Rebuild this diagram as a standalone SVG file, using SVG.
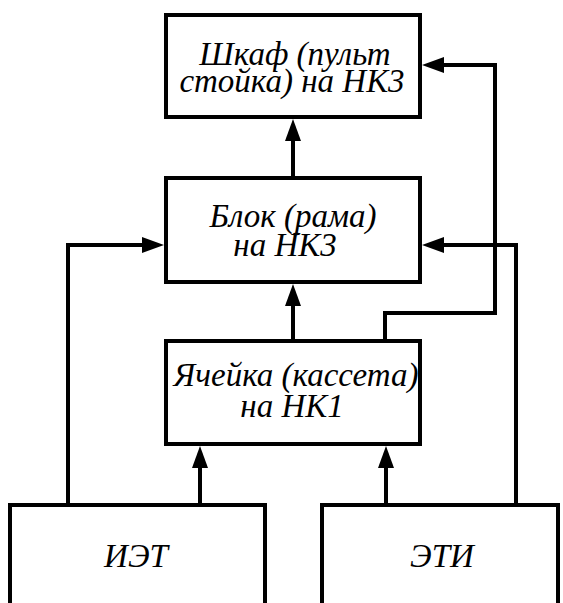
<svg xmlns="http://www.w3.org/2000/svg" width="563" height="603" viewBox="0 0 563 603">
  <style>
    .box { fill: #fff; stroke: #000; stroke-width: 4; }
    .lbl { font-family: 'Liberation Serif', 'Times New Roman', 'DejaVu Serif', serif; font-style: italic; font-size: 33px; fill: #000; text-anchor: middle; }
    .wire { fill: none; stroke: #000; stroke-width: 4; stroke-linejoin: miter; }
  </style>
  <defs>
    <marker id="head" markerUnits="userSpaceOnUse" viewBox="0 0 22 16" refX="14" refY="8" markerWidth="22" markerHeight="16" orient="auto">
      <path d="M0,0 L22,8 L0,16 Z" fill="#000"/>
    </marker>
  </defs>
  <rect width="563" height="603" fill="#fff"/>

  <g id="cabinet">
    <rect class="box" x="166" y="15" width="254" height="102"/>
    <text class="lbl" x="295" y="65">Шкаф (пульт</text>
    <text class="lbl" x="292" y="92">стойка) на НК3</text>
  </g>

  <g id="block">
    <rect class="box" x="166" y="178" width="254" height="104"/>
    <text class="lbl" x="293" y="227">Блок (рама)</text>
    <text class="lbl" x="285" y="256">на НК3</text>
  </g>

  <g id="cell">
    <rect class="box" x="166" y="341" width="254" height="103"/>
    <text class="lbl" x="296" y="386">Ячейка (кассета)</text>
    <text class="lbl" x="292" y="417">на НК1</text>
  </g>

  <g id="iet">
    <path class="box" d="M10,610 V505 H265 V610"/>
    <text class="lbl" x="136" y="567">ИЭТ</text>
  </g>

  <g id="eti">
    <path class="box" d="M322,610 V505 H558 V610"/>
    <text class="lbl" x="442" y="567">ЭТИ</text>
  </g>

  <g id="connectors">
    <!-- cell -> block -->
    <path class="wire" d="M293,341 V292" marker-end="url(#head)"/>
    <!-- block -> cabinet -->
    <path class="wire" d="M293,178 V127" marker-end="url(#head)"/>
    <!-- cell -> cabinet (side route) -->
    <path class="wire" d="M385,341 V313 H495 V65 H430" marker-end="url(#head)"/>
    <!-- ИЭТ -> block -->
    <path class="wire" d="M68,505 V245 H156" marker-end="url(#head)"/>
    <!-- ЭТИ -> block -->
    <path class="wire" d="M516,505 V245 H430" marker-end="url(#head)"/>
    <!-- ИЭТ -> cell -->
    <path class="wire" d="M200,505 V454" marker-end="url(#head)"/>
    <!-- ЭТИ -> cell -->
    <path class="wire" d="M386,505 V454" marker-end="url(#head)"/>
  </g>
</svg>
